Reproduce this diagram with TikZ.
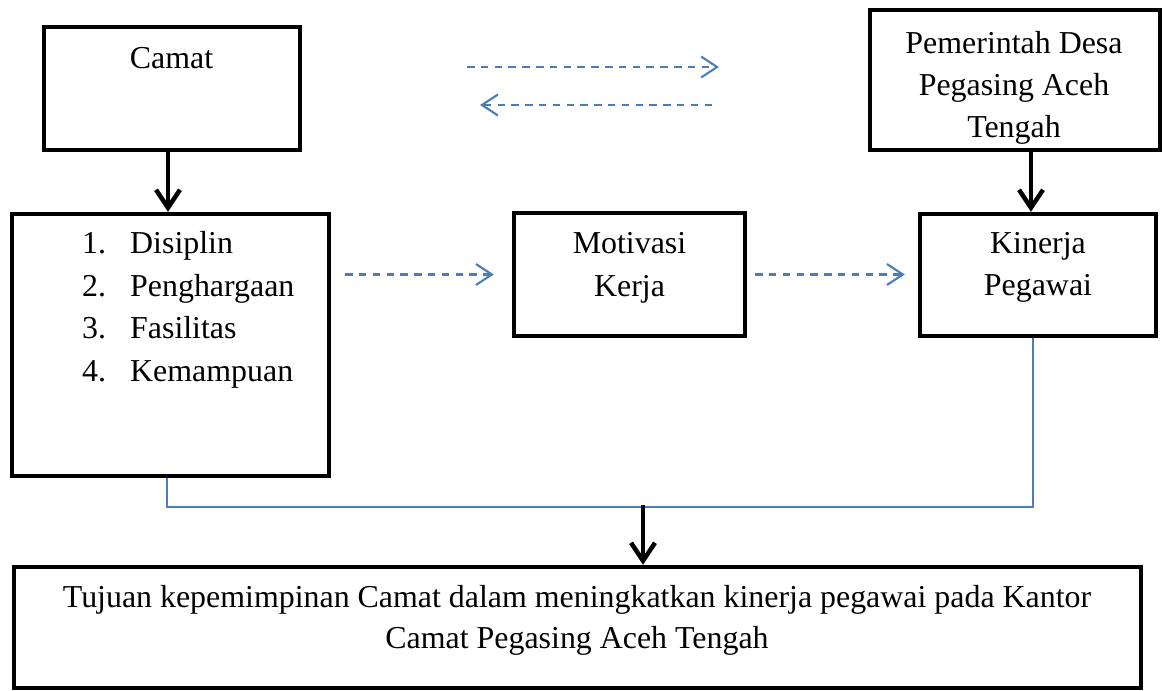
\documentclass[tikz,border=0pt]{standalone}
\usepackage{fontspec}
\setmainfont{Liberation Serif}
\usetikzlibrary{arrows.meta}
\definecolor{wblue}{HTML}{4A7EBB}
\begin{document}
\begin{tikzpicture}[x=1pt,y=-1pt,
  box/.style={draw=black,line width=4.3pt,rectangle,inner sep=0pt},
  txt/.style={inner sep=0pt,anchor=base,font=\fontsize{31.9}{42}\selectfont},
  txtl/.style={txt,anchor=base west},
  bigarrow/.style={draw=black,line width=4.5pt,-{Straight Barb[length=18pt,width=24pt]}},
  dasharrow/.style={draw=wblue,line width=2.1pt,dash pattern=on 7.5pt off 6.3pt,-{Straight Barb[length=16pt,width=21pt,line width=2.1pt]}},
  bluelink/.style={draw=wblue,line width=1.6pt}]
\useasboundingbox (0,0) rectangle (1163,691);
% boxes
\node[box,minimum width=256pt,minimum height=123pt] (camat) at (172,88.5) {};
\node[box,minimum width=317pt,minimum height=262pt] (list) at (170.5,345) {};
\node[box,minimum width=231pt,minimum height=123pt] (mot) at (629.5,274.5) {};
\node[box,minimum width=236pt,minimum height=122pt] (kin) at (1038,275) {};
\node[box,minimum width=290pt,minimum height=140pt] (pem) at (1015,80) {};
\node[box,minimum width=1127pt,minimum height=121pt] (goal) at (577.5,627.5) {};
% texts
\node[txt] (tcamat) at (171.5,68) {Camat};
\node[txtl] (n1) at (82,253.5) {1.};
\node[txtl] (i1) at (130,253.5) {Disiplin};
\node[txtl] (n2) at (82,296) {2.};
\node[txtl] (i2) at (130,296) {Penghargaan};
\node[txtl] (n3) at (82,338.5) {3.};
\node[txtl] (i3) at (130,338.5) {Fasilitas};
\node[txtl] (n4) at (82,381) {4.};
\node[txtl] (i4) at (130,381) {Kemampuan};
\node[txt] (tmot1) at (629.5,253) {Motivasi};
\node[txt] (tmot2) at (629.5,296.5) {Kerja};
\node[txt] (tkin1) at (1038,253) {Kinerja};
\node[txt] (tkin2) at (1038,295) {Pegawai};
\node[txt] (tpem1) at (1014,53) {Pemerintah Desa};
\node[txt] (tpem2) at (1014,95) {Pegasing Aceh};
\node[txt] (tpem3) at (1014,137) {Tengah};
\node[txt] (tgoal1) at (577,607) {Tujuan kepemimpinan Camat dalam meningkatkan kinerja pegawai pada Kantor};
\node[txt] (tgoal2) at (577,648) {Camat Pegasing Aceh Tengah};
% coordinates
\coordinate (ax1) at (168,0);
\coordinate (ax2) at (1031,0);
\coordinate (b1) at (167,0);
\coordinate (b2) at (1033,507);
\coordinate (j) at (643,505);
\coordinate (ta1) at (467,67);
\coordinate (ta2) at (719,67);
\coordinate (tb1) at (712,105);
\coordinate (tb2) at (480,105);
% black arrows
\draw[bigarrow] (camat.south -| ax1) -- (list.north -| ax1);
\draw[bigarrow] (pem.south -| ax2) -- (kin.north -| ax2);
% blue link
\draw[bluelink] (list.south -| b1) |- (b2) -- (kin.south -| b2);
\draw[bigarrow] (j) -- (goal.north -| j);
% dashed arrows
\draw[dasharrow] (ta1) -- (ta2);
\draw[dasharrow] (tb1) -- (tb2);
\draw[dasharrow,shorten <=14pt,shorten >=18pt] (mot.west -| list.east) -- (mot.west);
\draw[dasharrow,shorten <=8pt,shorten >=13pt] (mot.east) -- (kin.west |- mot.east);
\end{tikzpicture}
\end{document}
